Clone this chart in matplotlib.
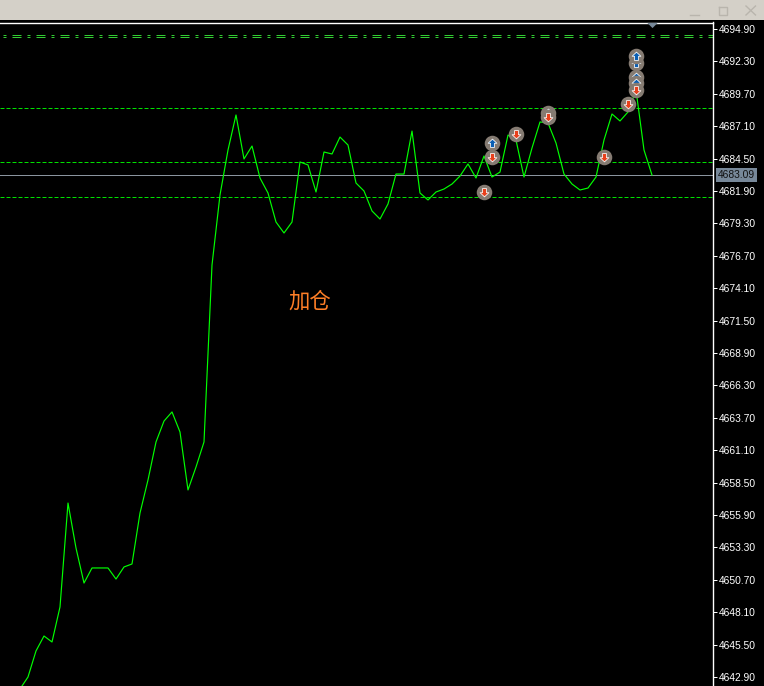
#!/usr/bin/env python3
import numpy as np
import matplotlib
matplotlib.use('Agg')
import matplotlib.pyplot as plt
from matplotlib.path import Path
from matplotlib.patches import Rectangle
from matplotlib.lines import Line2D
from matplotlib.transforms import blended_transform_factory

# close prices, one per bar (bars are numbered from the left edge)
first_bar = 2
closes = [
    4641.94, 4642.90, 4644.99, 4646.19, 4645.71, 4648.52, 4656.86, 4653.25,
    4650.44, 4651.65, 4651.65, 4651.65, 4650.76, 4651.73, 4651.97, 4656.06,
    4658.71, 4661.76, 4663.44, 4664.17, 4662.56, 4657.91, 4659.75, 4661.76,
    4675.96, 4681.58, 4685.19, 4688.00, 4684.47, 4685.51, 4682.94, 4681.74,
    4679.41, 4678.53, 4679.41, 4684.23, 4683.99, 4681.82, 4685.03, 4684.87,
    4686.23, 4685.59, 4682.54, 4681.90, 4680.30, 4679.65, 4680.86, 4683.26,
    4683.26, 4686.71, 4681.74, 4681.18, 4681.82, 4682.06, 4682.46, 4683.10,
    4684.07, 4682.94, 4684.71, 4683.02, 4683.42, 4686.39, 4685.99, 4683.02,
    4685.35, 4687.44, 4687.36, 4685.75, 4683.26, 4682.46, 4681.98, 4682.14,
    4683.02, 4685.99, 4688.08, 4687.52, 4688.24, 4690.00, 4685.19, 4683.18,
]

# trades in drawing order, later ones cover earlier ones (direction: 1 buy, -1 sell)
trade_bars = [60, 61, 61, 64, 68, 68, 75, 78, 79, 79, 79, 79, 79]
trade_prices = [4681.82, 4685.75, 4684.63, 4686.47, 4688.16, 4687.84, 4684.63, 4688.88,
                4692.17, 4691.05, 4690.57, 4690.00, 4692.73]
trade_dirs = [-1, 1, -1, -1, 1, -1, -1, -1, 1, 1, 1, -1, 1]

# order links between trades
link_bars = [61, 68, 79]
link_low = [4684.63, 4687.84, 4690.00]
link_high = [4685.75, 4688.16, 4692.73]

level_lines = [4688.56, 4684.23, 4681.42]
double_lines = [4694.42, 4694.26]
last_price = 4683.09
last_line = 4683.18
y_ticks = [4694.90 - 2.6 * i for i in range(21)]
note_text = '加仓'

W, H = 764, 686
LEFT, RIGHT, TOP, BOTTOM = 0, 713, 22.5, 686
PX_PER_UNIT = 32.4 / 2.6
BAR_PX = 8
ONE_PX = 0.72
COLORS = {1: '#0a5fb4', -1: '#e8401c'}
TICK_FONT = ['Liberation Sans', 'DejaVu Sans']


def fig_xy(x, y):
    return x / W, 1 - y / H


def arrow_path(direction):
    verts = np.array([(0, 1), (1, 0.05), (0.45, 0.05), (0.45, -0.9), (-0.45, -0.9),
                      (-0.45, 0.05), (-1, 0.05), (0, 1)], dtype=float)
    verts[:, 1] *= direction
    return Path(verts, closed=True)


def main():
    fig = plt.figure(figsize=(W / 100, H / 100), dpi=100, facecolor='black')

    # window title bar
    fig.add_artist(Rectangle((0, 1 - 20 / H), 1, 20 / H, transform=fig.transFigure,
                             facecolor='#d4d0c8', edgecolor='none'))
    btn = dict(color='#b9b5ad', lw=1.0, transform=fig.transFigure)
    (x0, y0), (x1, y1) = fig_xy(690, 14.5), fig_xy(699, 14.5)
    fig.add_artist(Line2D([x0, x1], [y0, y1], **btn))
    (x0, y0), (x1, y1) = fig_xy(718.5, 6.5), fig_xy(727, 14.5)
    fig.add_artist(Line2D([x0, x1, x1, x0, x0], [y0, y0, y1, y1, y0], **btn))
    (x0, y0), (x1, y1) = fig_xy(746, 6), fig_xy(755.5, 15)
    fig.add_artist(Line2D([x0, x1], [y0, y1], **btn))
    fig.add_artist(Line2D([x0, x1], [y1, y0], **btn))

    ax = fig.add_axes([LEFT / W, 1 - BOTTOM / H, (RIGHT - LEFT) / W, (BOTTOM - TOP) / H],
                      facecolor='black')
    ax.set_xlim((LEFT - 4) / BAR_PX, (RIGHT - 4) / BAR_PX)
    ax.set_ylim(4694.90 - (BOTTOM - 29) / PX_PER_UNIT, 4694.90 + (29 - TOP) / PX_PER_UNIT)

    ax.spines['left'].set_visible(False)
    ax.spines['bottom'].set_visible(False)
    for side in ('top', 'right'):
        ax.spines[side].set_color('white')
        ax.spines[side].set_linewidth(1.0)

    ax.set_xticks([])
    ax.yaxis.tick_right()
    ax.set_yticks(y_ticks)
    ax.set_yticklabels([f'{v:.2f}' for v in y_ticks])
    ax.tick_params(axis='y', colors='white', length=3, width=ONE_PX, pad=1, labelsize=7.4)
    for lab in ax.get_yticklabels():
        lab.set_fontfamily(TICK_FONT)

    for lev in level_lines:
        ax.axhline(lev, color='#00e000', lw=ONE_PX, ls=(0, (4, 2)), zorder=1)
    for lev in double_lines:
        ax.axhline(lev, color='#32cd32', lw=ONE_PX, ls=(-3, (3, 6, 9, 6)), zorder=1)
    ax.axhline(last_line, color='#8a949e', lw=ONE_PX, zorder=1)

    bars = np.arange(first_bar, first_bar + len(closes))
    ax.plot(bars, closes, color='#00ff00', lw=0.85, zorder=2)

    for b, lo, hi in zip(link_bars, link_low, link_high):
        ax.plot([b, b], [lo, hi], color='#1e78d2', lw=1.0, zorder=3)

    for i, (b, p, d) in enumerate(zip(trade_bars, trade_prices, trade_dirs)):
        z = 4 + 0.1 * i
        ax.scatter([b], [p], s=125, color='#857b72', lw=0, zorder=z)
        ax.scatter([b], [p], s=40, marker=arrow_path(d), facecolor=COLORS[d],
                   edgecolor='white', lw=0.55, zorder=z + 0.01)

    # last price tag on the scale, marker at the top of the chart
    trans = blended_transform_factory(ax.transAxes, ax.transData)
    ax.text(718 / RIGHT, last_price + 0.08, f'{last_price:.2f}', transform=trans,
            color='#101010', fontsize=7.4, family=TICK_FONT,
            va='center', ha='left', clip_on=False, zorder=6,
            bbox=dict(facecolor='#778899', edgecolor='none', pad=1.6))
    ax.plot([bars[-1]], [ax.get_ylim()[1] - 0.2], marker=[(-1, 0.5), (1, 0.5), (0, -0.5)],
            ms=7.5, color='#778899', mew=0, clip_on=False, zorder=6)

    ax.text(35.6, 4673.0, note_text, color='#ff7f27', fontsize=15.4,
            family=['Noto Sans CJK SC', 'DejaVu Sans'], ha='left', va='center', zorder=6)

    fig.savefig('out.png', dpi=100, facecolor='black')


if __name__ == '__main__':
    main()
